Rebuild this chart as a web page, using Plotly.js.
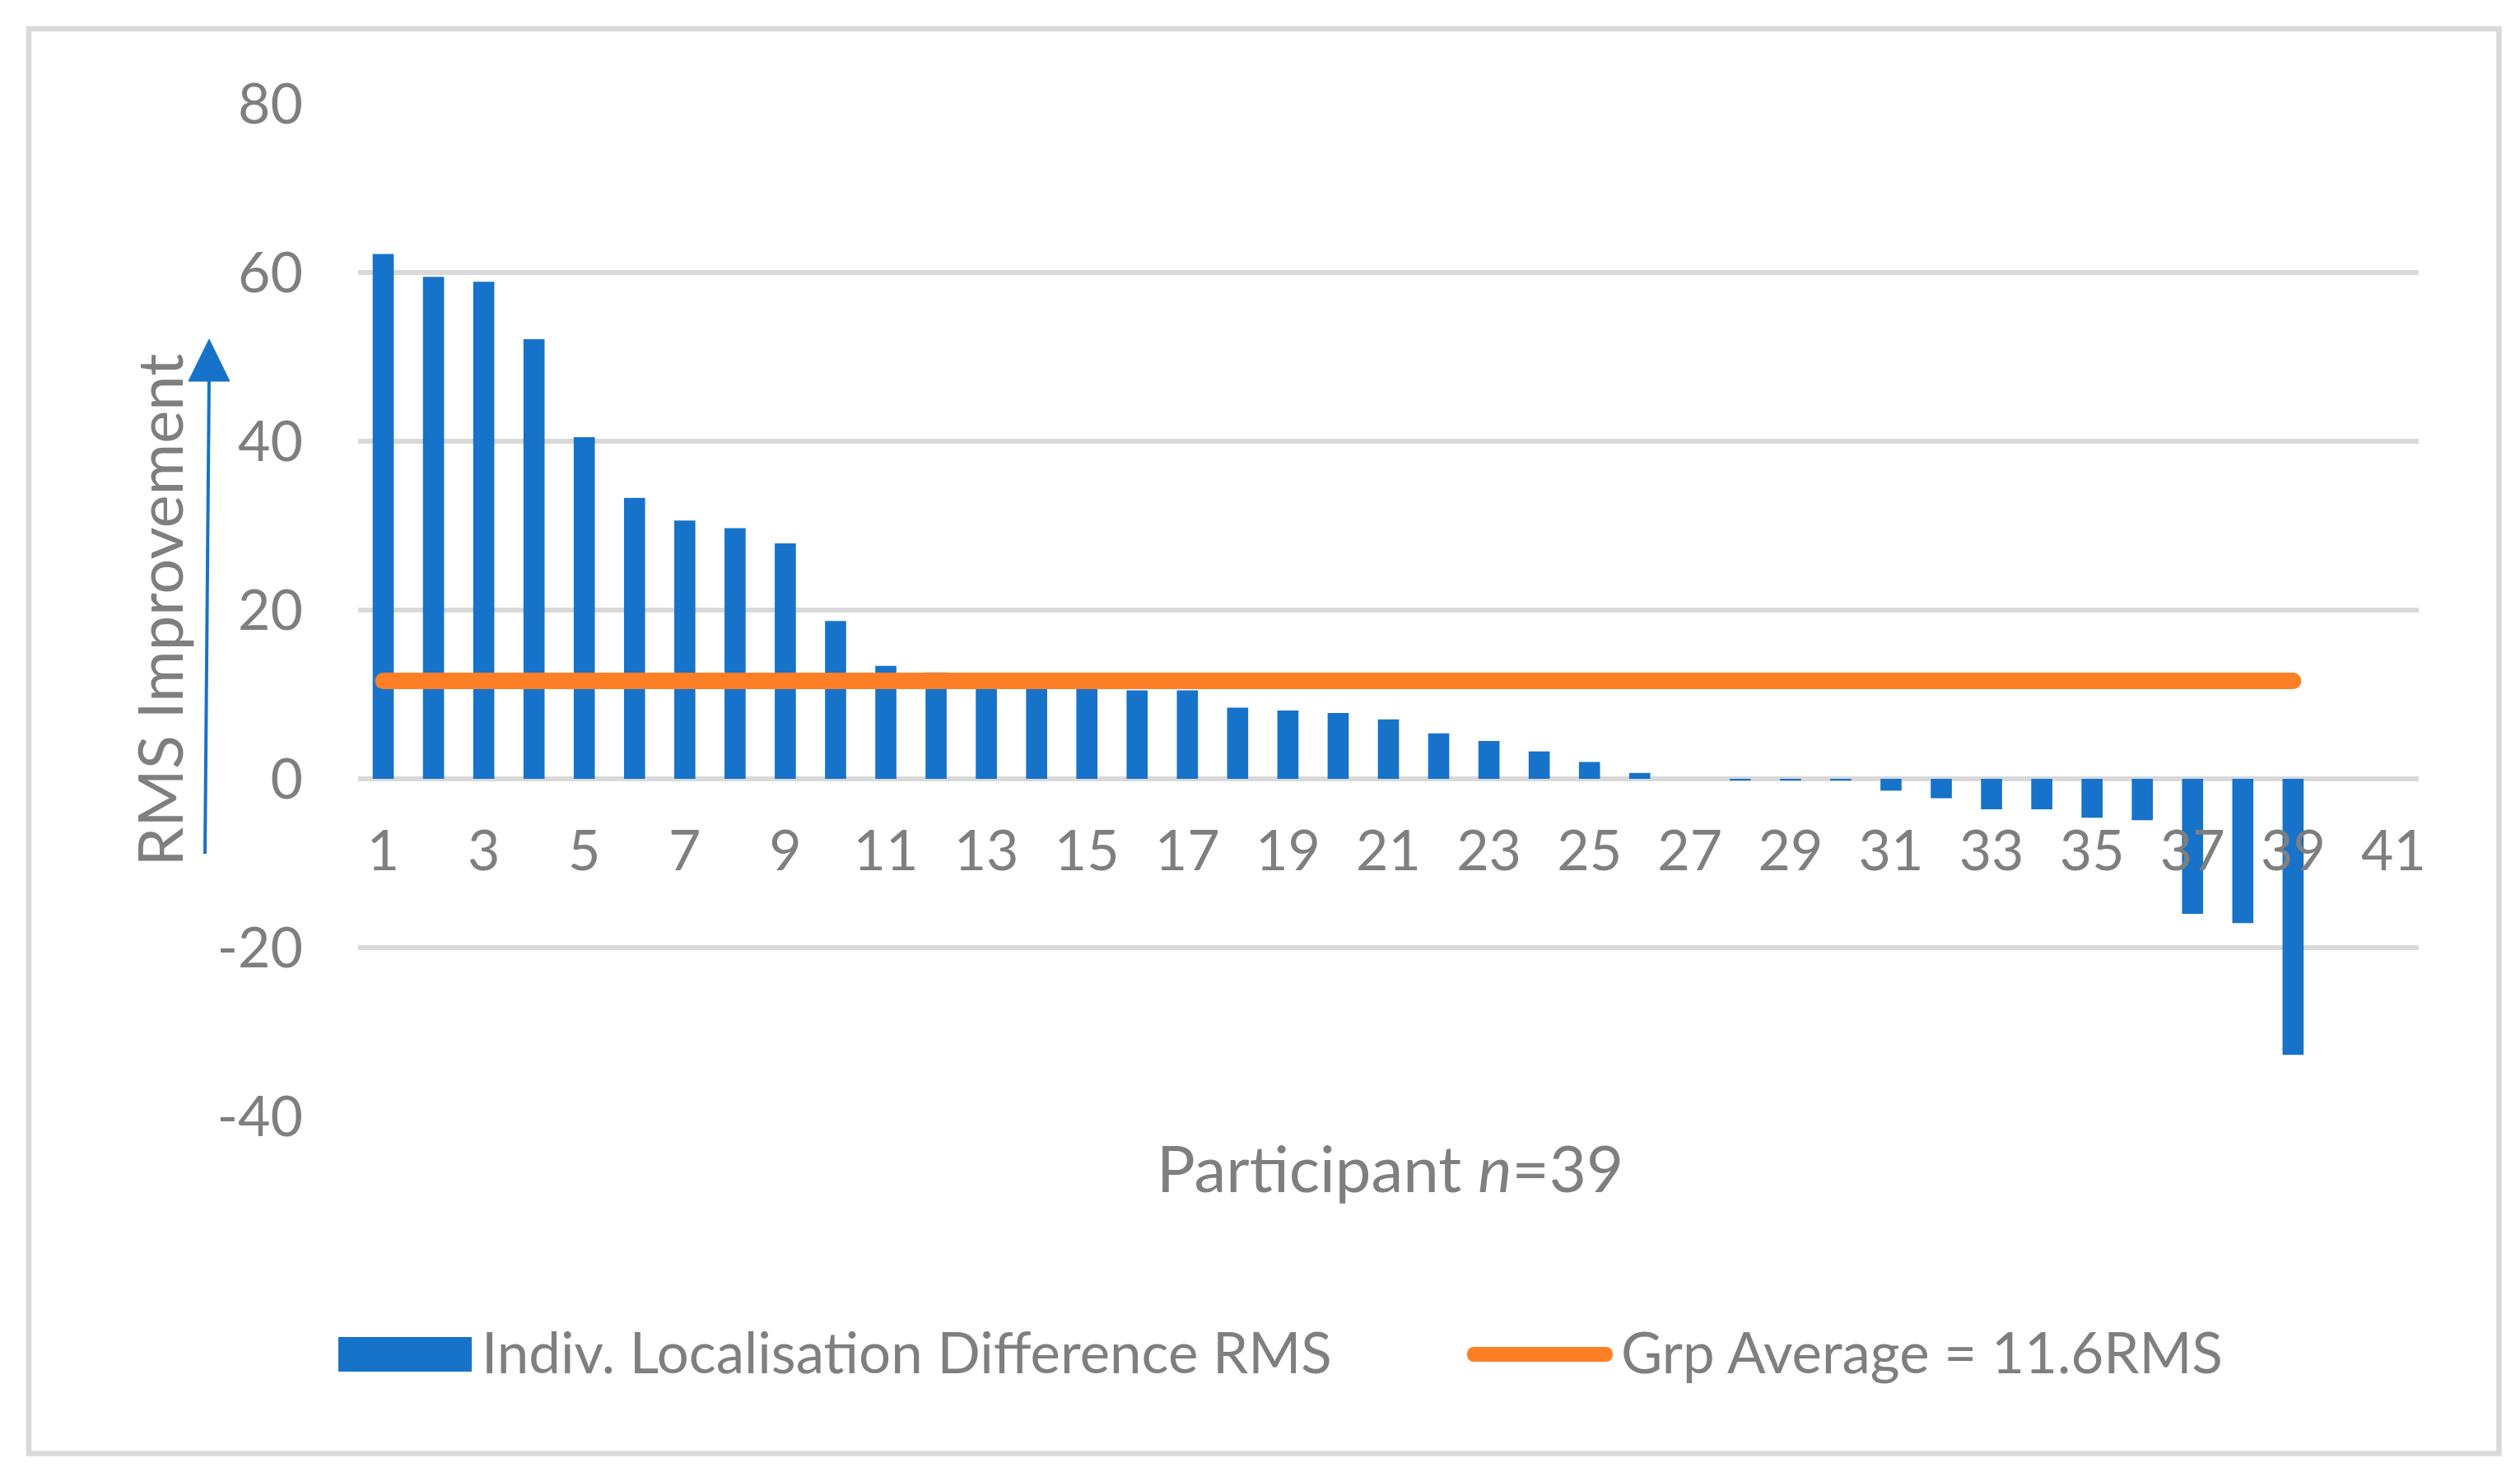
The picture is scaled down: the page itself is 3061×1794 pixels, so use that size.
<!DOCTYPE html>
<html>
<head>
<meta charset="utf-8">
<script src="https://cdn.plot.ly/plotly-3.0.1.min.js"></script>
<style>
  html, body { margin: 0; padding: 0; background: #fff; }
  #chart { width: 3061px; height: 1794px; }
</style>
</head>
<body>
<div id="chart"></div>
<script>
// participant number (sorted by improvement) and RMS improvement
var participants = [1, 2, 3, 4, 5, 6, 7, 8, 9, 10,
  11, 12, 13, 14, 15, 16, 17, 18, 19, 20,
  21, 22, 23, 24, 25, 26, 27, 28, 29, 30,
  31, 32, 33, 34, 35, 36, 37, 38, 39];
var rmsDiff = [62.2, 59.5, 58.9, 52.1, 40.5, 33.3, 30.6, 29.7, 27.9, 18.7,
  13.4, 12.6, 11.9, 11.5, 11.0, 10.5, 10.5, 8.45, 8.1, 7.8,
  7.05, 5.4, 4.5, 3.25, 2.0, 0.7, 0.0, -0.2, -0.2, -0.2,
  -1.4, -2.3, -3.6, -3.6, -4.6, -4.9, -16.0, -17.1, -32.7];

// group average line, drawn from first to last participant
var avgX = [1, 39];
var avgY = [11.6, 11.6];

var xTicks = [1, 3, 5, 7, 9, 11, 13, 15, 17, 19, 21, 23, 25, 27, 29, 31, 33, 35, 37, 39, 41];
var yTicks = [-40, -20, 0, 20, 40, 60, 80];
var yTickText = ['-40', '-20', '0', '20', '40', '60', '80'];

var barName = 'Indiv. Localisation Difference RMS';
var avgName = 'Grp Average = 11.6RMS';

var W = 3061, H = 1794;
var M = { l: 435, r: 123, t: 126, b: 438 };
var plotW = W - M.l - M.r, plotH = H - M.t - M.b;
// pixel -> paper helpers for the decorations outside the plot area
function px(x) { return (x - M.l) / plotW; }
function py(y) { return (H - M.b - y) / plotH; }
function pt(x, y) { return px(x) + ',' + py(y); }

var blue = '#1773C9', orange = '#FF7F27', grey = '#7F7F7F', grid = '#D9D9D9';
var FONT = 'Lato, "Open Sans", sans-serif';

var bars = {
  type: 'bar',
  x: participants,
  y: rmsDiff,
  name: barName,
  width: 0.42,
  marker: { color: blue },
  showlegend: false
};

var avgLine = {
  type: 'scatter',
  mode: 'lines',
  x: avgX,
  y: avgY,
  name: avgName,
  line: { color: orange, width: 20 },
  showlegend: false
};

var layout = {
  width: W,
  height: H,
  margin: M,
  paper_bgcolor: '#fff',
  plot_bgcolor: '#fff',
  font: { family: FONT, color: grey, size: 68 },
  xaxis: {
    range: [0.5, 41.5],
    tickvals: xTicks,
    ticktext: xTicks.map(String),
    ticks: '',
    showgrid: false,
    zeroline: false,
    showline: false,
    anchor: 'free',
    position: py(946),
    ticklabelstandoff: 42,
    tickfont: { size: 68, color: grey }
  },
  yaxis: {
    range: [-40, 80],
    tickvals: yTicks,
    ticktext: yTickText,
    ticks: '',
    showgrid: true,
    gridcolor: grid,
    gridwidth: 6,
    zeroline: true,
    zerolinecolor: grid,
    zerolinewidth: 6,
    showline: false,
    ticklabelstandoff: 66,
    tickfont: { size: 68, color: grey },
    title: { text: 'RMS Improvement', font: { size: 76, color: grey }, standoff: 16 }
  },
  shapes: [
    // chart border
    { type: 'rect', xref: 'paper', yref: 'paper',
      x0: px(35), x1: px(3035.5), y0: py(1765.5), y1: py(35),
      line: { color: grid, width: 6.5 }, fillcolor: 'rgba(0,0,0,0)', layer: 'below' },
    // arrow beside the y title
    { type: 'line', xref: 'paper', yref: 'paper',
      x0: px(249), y0: py(1037), x1: px(254), y1: py(460),
      line: { color: blue, width: 4 } },
    { type: 'path', xref: 'paper', yref: 'paper',
      path: 'M' + pt(254, 412) + ' L' + pt(229, 463) + ' L' + pt(279, 463) + ' Z',
      fillcolor: blue, line: { color: blue, width: 1 } },
    // legend keys
    { type: 'rect', xref: 'paper', yref: 'paper',
      x0: px(411), x1: px(573), y0: py(1666), y1: py(1624),
      fillcolor: blue, line: { width: 0 } },
    { type: 'path', xref: 'paper', yref: 'paper',
      path: 'M' + pt(1791, 1636) + ' L' + pt(1950, 1636) +
            ' Q' + pt(1959, 1636) + ' ' + pt(1959, 1645) +
            ' Q' + pt(1959, 1654) + ' ' + pt(1950, 1654) +
            ' L' + pt(1791, 1654) +
            ' Q' + pt(1782, 1654) + ' ' + pt(1782, 1645) +
            ' Q' + pt(1782, 1636) + ' ' + pt(1791, 1636) + ' Z',
      fillcolor: orange, line: { width: 0 } }
  ],
  annotations: [
    { xref: 'paper', yref: 'paper', x: px(1688), y: py(1418),
      xanchor: 'center', yanchor: 'middle', showarrow: false,
      text: 'Participant <i>n</i>=39', font: { size: 78, color: grey } },
    { xref: 'paper', yref: 'paper', x: px(583), y: py(1641),
      xanchor: 'left', yanchor: 'middle', showarrow: false,
      text: barName, font: { size: 69, color: grey } },
    { xref: 'paper', yref: 'paper', x: px(1967), y: py(1641),
      xanchor: 'left', yanchor: 'middle', showarrow: false,
      text: avgName, font: { size: 69, color: grey } }
  ],
  bargap: 0.58
};

Plotly.newPlot('chart', [bars, avgLine], layout, { staticPlot: true }).then(function (gd) {
  // Excel draws the average line with rounded ends
  gd.querySelectorAll('.scatterlayer .js-line').forEach(function (p) {
    p.style.strokeLinecap = 'round';
  });
});
</script>
</body>
</html>
